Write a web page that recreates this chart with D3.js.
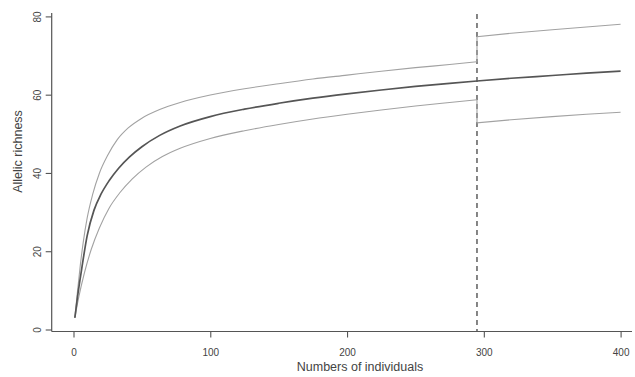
<!DOCTYPE html>
<html>
<head>
<meta charset="utf-8">
<script src="https://cdn.jsdelivr.net/npm/d3@7"></script>
<style>
  body { margin: 0; background: #fff; }
  text { font-family: "Liberation Sans", Arial, sans-serif; fill: #444; }
</style>
</head>
<body>
<div id="chart"></div>
<script>
// rarefaction curve
const meanX = [1, 3, 6, 10, 15, 20, 26, 33, 41, 50, 63, 78, 100, 125, 150, 175, 200, 225, 250, 275, 295, 320, 350, 375, 400];
const meanY = [3, 8.5, 15.5, 24, 30.5, 34.5, 38, 41.2, 44.1, 46.7, 49.6, 52, 54.4, 56.3, 57.8, 59.1, 60.2, 61.2, 62.1, 62.9, 63.5, 64.2, 64.9, 65.5, 66];

// upper bound (jumps at the cut-off)
const upperX = [1, 3, 5, 7, 10, 14, 19, 25, 32, 40, 50, 63, 78, 100, 125, 150, 175, 200, 225, 250, 275, 295, 295, 320, 350, 375, 400];
const upperY = [3, 10, 16.5, 22, 28.5, 34.5, 40, 44.5, 48.5, 51.5, 54, 56.2, 58, 59.9, 61.5, 62.8, 64, 65, 66, 66.9, 67.7, 68.4, 74.8, 75.7, 76.6, 77.3, 78];

// lower bound
const lowerX = [1, 4, 8, 13, 19, 26, 34, 43, 53, 65, 78, 100, 125, 150, 175, 200, 225, 250, 275, 295, 295, 320, 350, 375, 400];
const lowerY = [3, 8.5, 14.5, 20.5, 26, 31, 35, 38.5, 41.5, 44.2, 46.3, 48.8, 50.8, 52.4, 53.8, 55, 56.1, 57.1, 58, 58.7, 52.8, 53.6, 54.4, 55, 55.5];

const cutoff = 295;
const xTicks = [0, 100, 200, 300, 400];
const yTicks = [0, 20, 40, 60, 80];

const width = 635, height = 377;

const svg = d3.select('#chart')
  .append('svg')
    .attr('width', width)
    .attr('height', height);

const x = d3.scaleLinear().domain([0, 400]).range([73.5, 620.6]);
const y = d3.scaleLinear().domain([0, 80]).range([329.5, 16.4]);

const zip = (xs, ys) => xs.map((v, i) => [v, ys[i]]);
const line = d3.line()
  .x(d => x(d[0]))
  .y(d => y(d[1]))
  .curve(d3.curveMonotoneX);
// straight segments so the vertical jump stays vertical
const lineStep = d3.line().x(d => x(d[0])).y(d => y(d[1])).curve(d3.curveLinear);

// frame lines (L shaped box)
svg.append('line')
  .attr('x1', 51.7).attr('x2', 51.7)
  .attr('y1', 13).attr('y2', 331.5)
  .style('stroke', '#555').style('stroke-width', 1.2);
svg.append('line')
  .attr('x1', 51.7).attr('x2', 632)
  .attr('y1', 331.5).attr('y2', 331.5)
  .style('stroke', '#555').style('stroke-width', 1.2);

// y axis
const yAxis = svg.append('g')
  .attr('transform', 'translate(51.7,0)')
  .call(d3.axisLeft(y).tickValues(yTicks).tickSize(6).tickSizeOuter(0));
yAxis.select('.domain').remove();
yAxis.selectAll('line').style('stroke', '#555').style('stroke-width', 1.1);
yAxis.selectAll('text')
  .attr('x', null).attr('dy', null)
  .attr('transform', 'translate(-11,0) rotate(-90)')
  .attr('text-anchor', 'middle')
  .style('font-size', '10px')
  .style('fill', '#444');

// x axis
const xAxis = svg.append('g')
  .attr('transform', 'translate(0,331.5)')
  .call(d3.axisBottom(x).tickValues(xTicks).tickSize(6).tickSizeOuter(0));
xAxis.select('.domain').remove();
xAxis.selectAll('line').style('stroke', '#555').style('stroke-width', 1.1);
xAxis.selectAll('text')
  .attr('y', 24).attr('dy', null)
  .style('font-size', '10px')
  .style('fill', '#444');

// axis titles
svg.append('text')
  .attr('x', 360).attr('y', 371)
  .attr('text-anchor', 'middle')
  .style('font-size', '12.5px')
  .text('Numbers of individuals');
svg.append('text')
  .attr('transform', 'translate(22,151.5) rotate(-90)')
  .attr('text-anchor', 'middle')
  .style('font-size', '12.5px')
  .text('Allelic richness');

// cut-off
svg.append('line')
  .attr('x1', x(cutoff)).attr('x2', x(cutoff))
  .attr('y1', 14).attr('y2', 331)
  .style('stroke', '#444')
  .style('stroke-width', 1.3)
  .style('stroke-dasharray', '5,4');

// confidence bounds: smooth part before cut-off, straight after
const drawBound = (xs, ys) => {
  const pts = zip(xs, ys);
  const k = xs.indexOf(cutoff);
  svg.append('path')
    .attr('d', line(pts.slice(0, k + 1)))
    .style('fill', 'none').style('stroke', '#a2a2a2').style('stroke-width', 1.1);
  svg.append('path')
    .attr('d', lineStep(pts.slice(k)))
    .style('fill', 'none').style('stroke', '#a2a2a2').style('stroke-width', 1.1);
};
drawBound(upperX, upperY);
drawBound(lowerX, lowerY);

svg.append('path')
  .attr('d', line(zip(meanX, meanY)))
  .style('fill', 'none')
  .style('stroke', '#555')
  .style('stroke-width', 1.7);
</script>
</body>
</html>
